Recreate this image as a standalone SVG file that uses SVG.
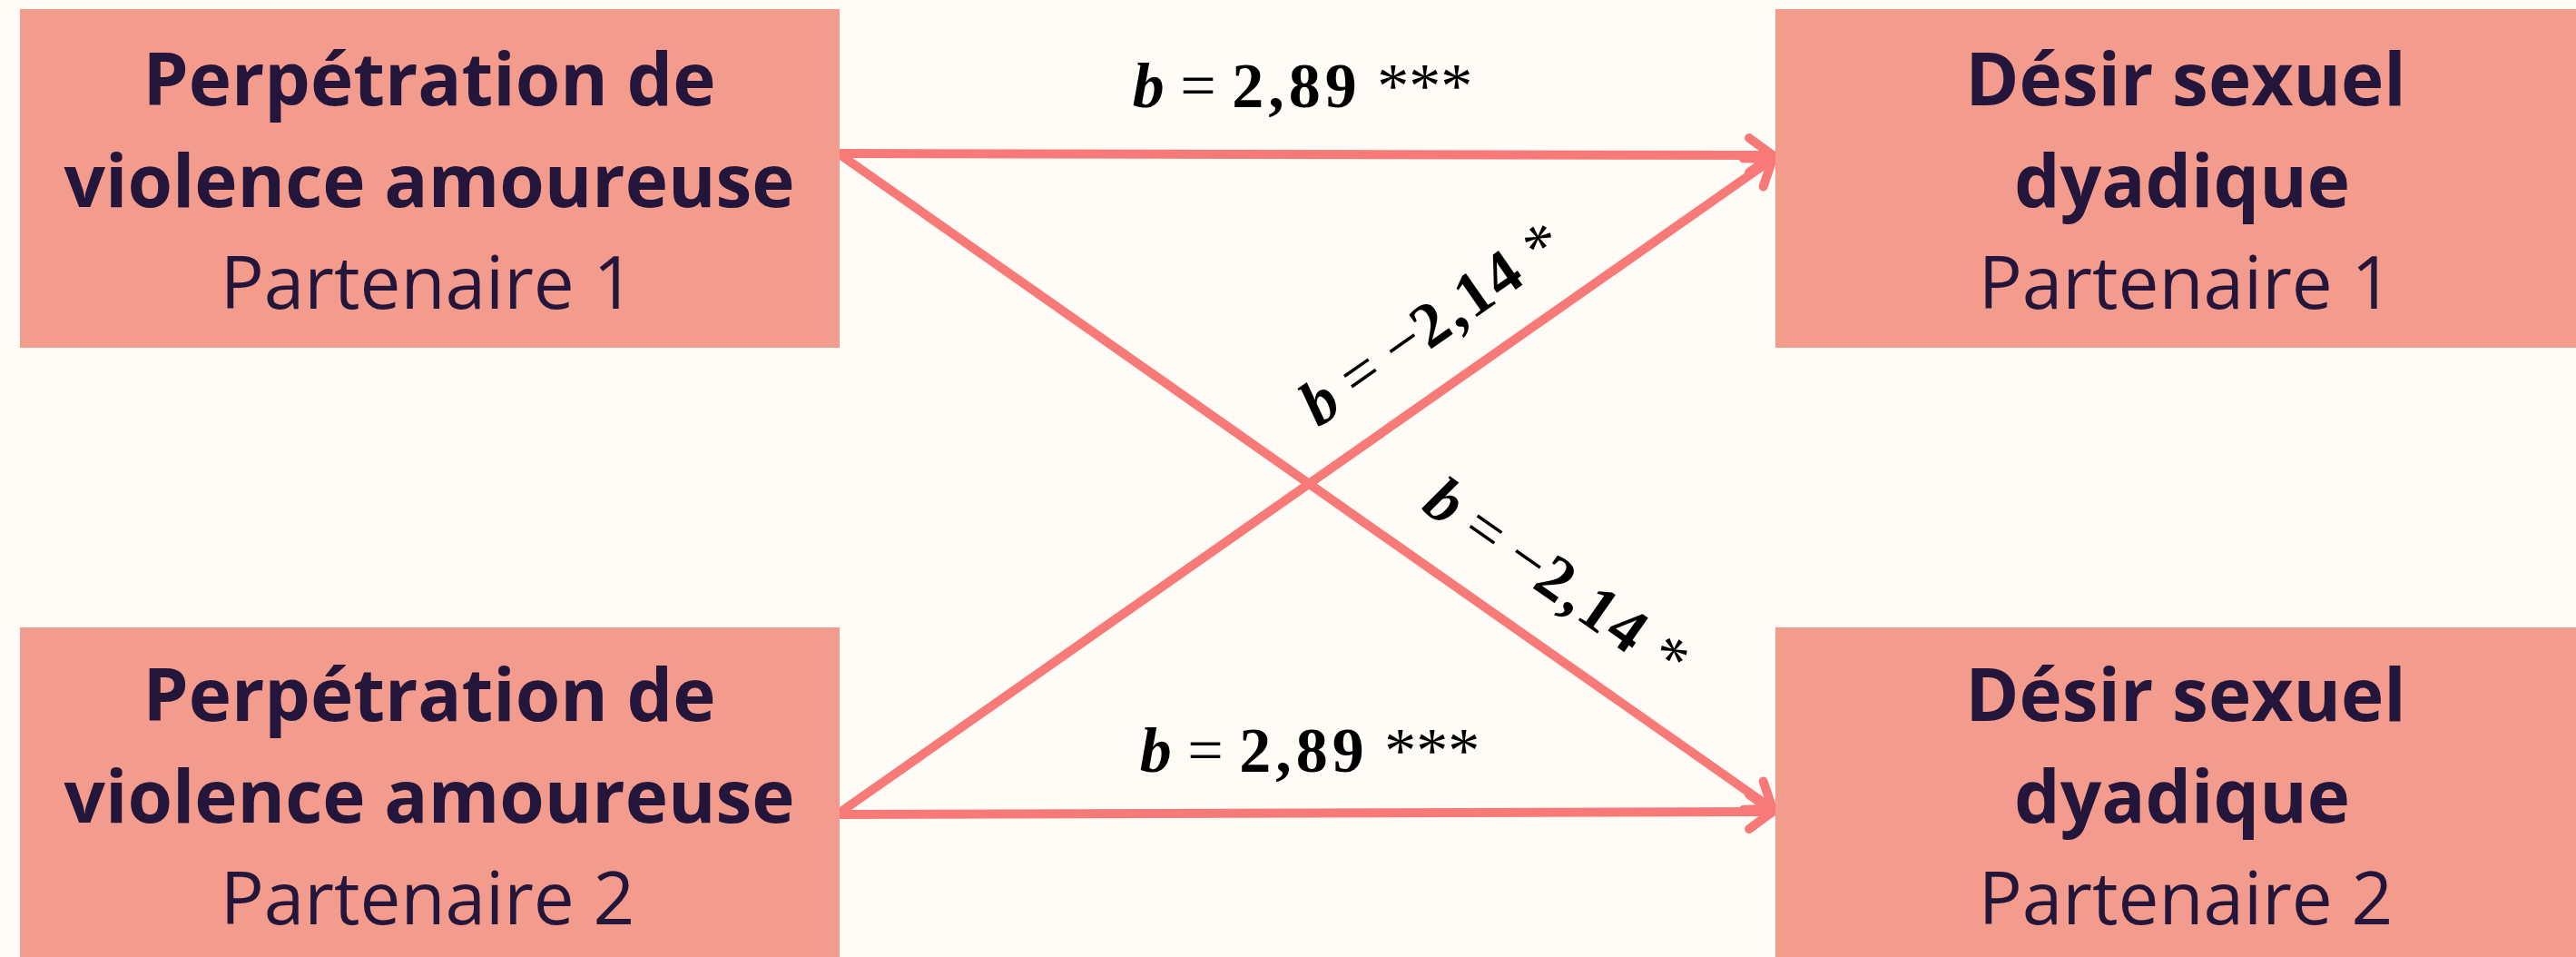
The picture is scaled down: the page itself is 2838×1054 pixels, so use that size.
<svg xmlns="http://www.w3.org/2000/svg" width="2838" height="1054" viewBox="0 0 2838 1054">
<defs>
<style>
.box{fill:#F39C8D}
.t{font-family:"Open Sans","Noto Sans",sans-serif;font-size:80px;fill:#24163A;text-anchor:middle}
.b{font-weight:700}
.r{font-weight:400}
.lbl{font-family:"Liberation Serif","Times New Roman",serif;font-size:70px;fill:#000;text-anchor:middle}
.bi{font-weight:700;font-style:italic}
.bd{font-weight:700}
.conn{stroke:#F77A78;stroke-width:10;fill:none;stroke-linecap:round}
</style>
<marker id="arr" markerUnits="userSpaceOnUse" viewBox="-40 -30 50 60" markerWidth="50" markerHeight="60" refX="0" refY="0" orient="auto" overflow="visible">
<path d="M-26,-19 L0,0 L-26,19" fill="none" stroke="#F77A78" stroke-width="10" stroke-linecap="round" stroke-linejoin="round"/>
</marker>
</defs>
<rect width="2838" height="1054" fill="#FFFCF7"/>
<g id="connectors">
<line class="conn" x1="925" y1="169" x2="1953" y2="171" marker-end="url(#arr)"/>
<line class="conn" x1="925" y1="897" x2="1953" y2="894" marker-end="url(#arr)"/>
<line class="conn" x1="925" y1="170" x2="1953" y2="891" marker-end="url(#arr)"/>
<line class="conn" x1="925" y1="895" x2="1953" y2="175" marker-end="url(#arr)"/>
<text class="lbl" x="1435" y="118"><tspan class="bi">b</tspan> = <tspan class="bd" letter-spacing="5">2,89</tspan> ***</text>
<text class="lbl" x="1443" y="850"><tspan class="bi">b</tspan> = <tspan class="bd" letter-spacing="5">2,89</tspan> ***</text>
<text class="lbl" transform="translate(1590,375) rotate(-35)"><tspan class="bi">b</tspan> = −<tspan class="bd" letter-spacing="3">2,14</tspan> *</text>
<text class="lbl" transform="translate(1702,657) rotate(35)"><tspan class="bi">b</tspan> = −<tspan class="bd" letter-spacing="3">2,14</tspan> *</text>
</g>
<g id="perp1">
<rect class="box" x="22" y="10" width="903" height="373"/>
<text class="t b" x="473" y="116">Perpétration de</text>
<text class="t b" x="473" y="228">violence amoureuse</text>
<text class="t r" x="471" y="340">Partenaire 1</text>
</g>
<g id="perp2">
<rect class="box" x="22" y="691" width="903" height="373"/>
<text class="t b" x="473" y="794">Perpétration de</text>
<text class="t b" x="473" y="906">violence amoureuse</text>
<text class="t r" x="471" y="1018">Partenaire 2</text>
</g>
<g id="desir1">
<rect class="box" x="1956" y="10" width="904" height="373"/>
<text class="t b" x="2408" y="116">Désir sexuel</text>
<text class="t b" x="2404" y="228">dyadique</text>
<text class="t r" x="2408" y="340">Partenaire 1</text>
</g>
<g id="desir2">
<rect class="box" x="1956" y="691" width="904" height="373"/>
<text class="t b" x="2408" y="794">Désir sexuel</text>
<text class="t b" x="2404" y="906">dyadique</text>
<text class="t r" x="2408" y="1018">Partenaire 2</text>
</g>
</svg>
